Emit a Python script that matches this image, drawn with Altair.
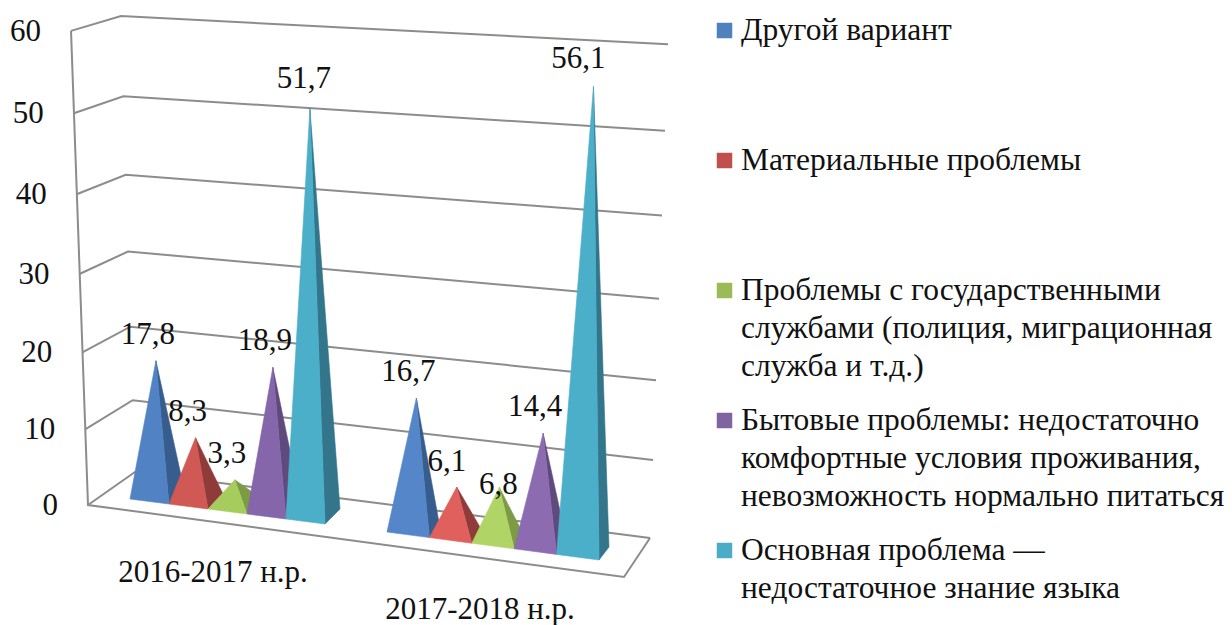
import altair as alt
import pandas as pd

periods = ["2016-2017 н.р.", "2017-2018 н.р."]
series_lines = [
    ["Другой вариант"],
    ["Материальные проблемы"],
    ["Проблемы с государственными", "службами (полиция, миграционная", "служба и т.д.)"],
    ["Бытовые проблемы:  недостаточно", "комфортные условия проживания,", "невозможность нормально питаться"],
    ["Основная проблема —", "недостаточное знание  языка"],
]
values_2016 = [17.8, 8.3, 3.3, 18.9, 51.7]
values_2017 = [16.7, 6.1, 6.8, 14.4, 56.1]
value_labels_2016 = ["17,8", "8,3", "3,3", "18,9", "51,7"]
value_labels_2017 = ["16,7", "6,1", "6,8", "14,4", "56,1"]
ticks = [0, 10, 20, 30, 40, 50, 60]

legend_colors = ["#4f81bd", "#c0504d", "#9bbb59", "#8064a2", "#4bacc6"]
front_colors = [
    ["#5082c4", "#d05855", "#a6cc5e", "#8666ab", "#4bafca"],
    ["#5486c9", "#df605c", "#b0d566", "#8d6bb0", "#4bafca"],
]
side_colors = ["#365d8d", "#8f3b39", "#7d9b45", "#5e4a7d", "#33768b"]
GRID = "#8c8c8c"
FONT = "Liberation Serif"
SIZE = 31
LEGEND_SIZE = 31.5


# Projection of the 3-D chart box onto the page
def front_left(v):
    return 88 - 0.283 * v, 505 - v * (7.5 + 0.0067 * v)


def back_left(v):
    return 135 - 0.233 * v, 472 - v * (7.1 + 0.0083 * v)


def back_right(v):
    return 650 + 0.3 * v, 538 - v * (7.72 + 0.0085 * v)


FRONT_RIGHT = (624, 577)
group_geom = [
    dict(start=(130, 499), end=(325, 524), depth=(15, -15), k0=7.3, k1=0.0105, lean=-0.06),
    dict(start=(387, 532), end=(599, 560), depth=(10, -13), k0=7.6, k1=0.012, lean=0.19),
]
label_nudge = {(0, 4): (-6, -30), (1, 4): (-15, -28), (1, 1): (-10, -25), (1, 2): (-1, -2)}

X = alt.X("x:Q", scale=alt.Scale(domain=[8, 1224], nice=False, zero=False), axis=None)
Y = alt.Y("y:Q", scale=alt.Scale(domain=[625, 8], nice=False, zero=False), axis=None)


def poly(points, fill):
    pts = list(points) + [points[0]]
    df = pd.DataFrame({"x": [p[0] for p in pts], "y": [p[1] for p in pts], "o": range(len(pts))})
    return alt.Chart(df).mark_line(fill=fill, stroke=fill, strokeWidth=0.6, interpolate="linear-closed").encode(
        x=X, y=Y, order="o:Q"
    )


# Walls and floor
grid_rows = []
for v in ticks:
    for i, p in enumerate([front_left(v), back_left(v), back_right(v)]):
        grid_rows.append(dict(line=f"g{v}", x=p[0], y=p[1], o=i))
for i, p in enumerate([front_left(60), front_left(0), FRONT_RIGHT, back_right(0)]):
    grid_rows.append(dict(line="box", x=p[0], y=p[1], o=i))
grid = alt.Chart(pd.DataFrame(grid_rows)).mark_line(color=GRID, strokeWidth=2).encode(
    x=X, y=Y, detail="line:N", order="o:Q"
)

layers = [grid]
text_rows = []
for g, (vals, labs) in enumerate(zip([values_2016, values_2017], [value_labels_2016, value_labels_2017])):
    geom = group_geom[g]
    sx, sy = geom["start"]
    ex, ey = geom["end"]
    dx, dy = geom["depth"]
    n = len(vals)
    for s, v in enumerate(vals):
        ax, ay = sx + (ex - sx) * s / n, sy + (ey - sy) * s / n
        bx, by = sx + (ex - sx) * (s + 1) / n, sy + (ey - sy) * (s + 1) / n
        cx, cy = (ax + bx + dx) / 2, (ay + by + dy) / 2
        tip = (cx + geom["lean"] * v, cy - v * (geom["k0"] + geom["k1"] * v))
        layers.append(poly([(bx, by), (bx + dx, by + dy), tip], side_colors[s]))
        layers.append(poly([(ax, ay), (bx, by), tip], front_colors[g][s]))
        nx, ny = label_nudge.get((g, s), (-8, -26))
        text_rows.append(dict(x=tip[0] + nx, y=tip[1] + ny, t=labs[s], a="center"))

for v in ticks:
    x, y = front_left(v)
    text_rows.append(dict(x=x - 30, y=y + 1, t=str(v), a="right"))

text_rows.append(dict(x=213, y=573, t=periods[0], a="center"))
text_rows.append(dict(x=480, y=610, t=periods[1], a="center"))

legend_rows = []
swatch_rows = []
for i, lines in enumerate(series_lines):
    y0 = 30.5 + 130 * i
    swatch_rows.append(dict(x=724.5, y=y0, c=legend_colors[i]))
    for j, line in enumerate(lines):
        legend_rows.append(dict(x=741, y=y0 + j * 38, t=line))

texts = pd.DataFrame(text_rows)
center = alt.Chart(texts[texts.a == "center"]).mark_text(
    font=FONT, fontSize=SIZE, color="#111111", align="center", baseline="middle"
).encode(x=X, y=Y, text="t:N")
right = alt.Chart(texts[texts.a == "right"]).mark_text(
    font=FONT, fontSize=SIZE, color="#111111", align="right", baseline="middle"
).encode(x=X, y=Y, text="t:N")
legend_text = alt.Chart(pd.DataFrame(legend_rows)).mark_text(
    font=FONT, fontSize=LEGEND_SIZE, color="#111111", align="left", baseline="middle"
).encode(x=X, y=Y, text="t:N")
swatches = alt.Chart(pd.DataFrame(swatch_rows)).mark_square(size=240, opacity=1).encode(
    x=X, y=Y, color=alt.Color("c:N", scale=None, legend=None)
)

chart = alt.layer(*layers, center, right, swatches, legend_text).properties(
    width=1216, height=617, padding=0, autosize=alt.AutoSizeParams(type="none"), background="white"
).configure_view(stroke=None)

chart.save("out.html", embed_options={"renderer": "svg", "actions": False})
